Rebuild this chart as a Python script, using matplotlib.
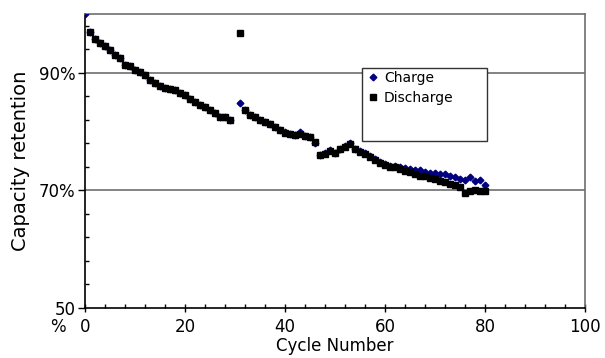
import numpy as np
import matplotlib
matplotlib.use("Agg")
import matplotlib.pyplot as plt
from matplotlib.patches import Rectangle
from matplotlib.ticker import MultipleLocator, FixedLocator

plt.rcParams['font.family'] = ['DejaVu Sans']

nan = np.nan
cycles = list(range(0, 81))

charge = [
    100.0,
    97.0, 95.8, 95.1, 94.5, 93.8, 93.1, 92.6, 91.4, 91.1, 90.5,
    90.2, 89.7, 88.8, 88.3, 87.8, 87.5, 87.3, 87.0, 86.6, 86.3,
    85.6, 85.1, 84.6, 84.1, 83.6, 83.2, 82.4, 82.4, 81.9, nan,
    84.9, 83.7, 82.9, 82.4, 81.9, 81.7, 81.3, 80.7, 80.2, 79.9,
    79.6, 79.5, 79.9, 79.3, 79.0, 78.1, 76.1, 76.3, 76.8, 76.4,
    77.1, 77.5, 78.0, 77.1, 76.7, 76.3, 75.8, 75.3, 74.8, 74.5,
    74.2, 74.1, 74.0, 73.8, 73.6, 73.4, 73.5, 73.1, 73.0, 73.0,
    72.8, 72.8, 72.4, 72.3, 71.9, 71.8, 72.3, 71.6, 71.8, 71.0,
]

discharge = [
    nan,
    97.0, 95.8, 95.1, 94.5, 93.8, 93.1, 92.6, 91.4, 91.1, 90.5,
    90.2, 89.7, 88.8, 88.3, 87.8, 87.5, 87.3, 87.0, 86.6, 86.3,
    85.6, 85.1, 84.6, 84.1, 83.6, 83.2, 82.4, 82.4, 81.9, nan,
    96.7, 83.7, 82.9, 82.4, 81.9, 81.7, 81.3, 80.7, 80.2, 79.8,
    79.6, 79.5, 79.6, 79.3, 79.0, 78.3, 76.1, 76.2, 76.7, 76.4,
    77.1, 77.4, 77.9, 77.1, 76.6, 76.2, 75.7, 75.2, 74.7, 74.4,
    74.0, 73.9, 73.7, 73.3, 73.2, 72.8, 72.5, 72.5, 72.1, 72.0,
    71.6, 71.5, 71.1, 71.0, 70.6, 69.6, 69.9, 70.1, 69.9, 69.9,
]

x_ticks = [0, 20, 40, 60, 80, 100]
y_ticks = [50, 70, 90]
y_tick_labels = ["50", "70%", "90%"]
series_labels = ["Charge", "Discharge"]

fig = plt.figure(figsize=(6.05, 3.58), dpi=100)
ax = fig.add_axes([85 / 605, 1 - 308 / 358, 500 / 605, 294 / 358])

ax.set_xlim(0, 100)
ax.set_ylim(50, 100)

# horizontal reference lines
for yv in (70, 90):
    ax.axhline(yv, color="#6e6e6e", lw=1.2, zorder=1)

ax.plot(cycles, charge, linestyle="none", marker="D", markersize=3.4,
        color="#000080", label=series_labels[0], zorder=3)
ax.plot(cycles, discharge, linestyle="none", marker="s", markersize=4.8,
        color="black", label=series_labels[1], zorder=4)

ax.xaxis.set_major_locator(FixedLocator(x_ticks))
ax.xaxis.set_minor_locator(MultipleLocator(4))
ax.yaxis.set_major_locator(FixedLocator(y_ticks))
ax.set_yticks(np.arange(50, 101, 4), minor=True)
ax.set_yticklabels(y_tick_labels)

ax.tick_params(axis="both", which="major", labelsize=12, color="black")
ax.tick_params(axis="x", which="major", direction="inout", length=6, width=1, pad=4)
ax.tick_params(axis="y", which="major", direction="out", length=5, width=1, pad=2)
ax.tick_params(axis="both", which="minor", direction="in", length=3, width=1)
ax.tick_params(top=False, right=False, which="both")

for side in ("left", "bottom"):
    ax.spines[side].set_color("black")
    ax.spines[side].set_linewidth(1.2)
for side in ("top", "right"):
    ax.spines[side].set_color("#6e6e6e")
    ax.spines[side].set_linewidth(1.2)

ax.set_xlabel("Cycle Number", fontsize=12, labelpad=1)
ax.set_ylabel("Capacity retention", fontsize=14, labelpad=6)

# unit sign shown below the lowest axis value
fig.text(58 / 605, 1 - 327 / 358, "%", fontsize=12, ha="center", va="center")

# legend frame
ax.add_patch(Rectangle((362 / 605, 1 - 141 / 358), 125 / 605, 73 / 358,
                       transform=fig.transFigure, facecolor="white",
                       edgecolor="#333333", lw=1.0, zorder=5, clip_on=False))
leg = ax.legend(loc="upper left", bbox_to_anchor=(366 / 605, 1 - 68 / 358),
                bbox_transform=fig.transFigure, frameon=False, fontsize=10,
                handlelength=0.6, handletextpad=0.5, labelspacing=0.45,
                borderpad=0.2, borderaxespad=0)
leg.set_zorder(6)

fig.savefig("out.png", dpi=100)
